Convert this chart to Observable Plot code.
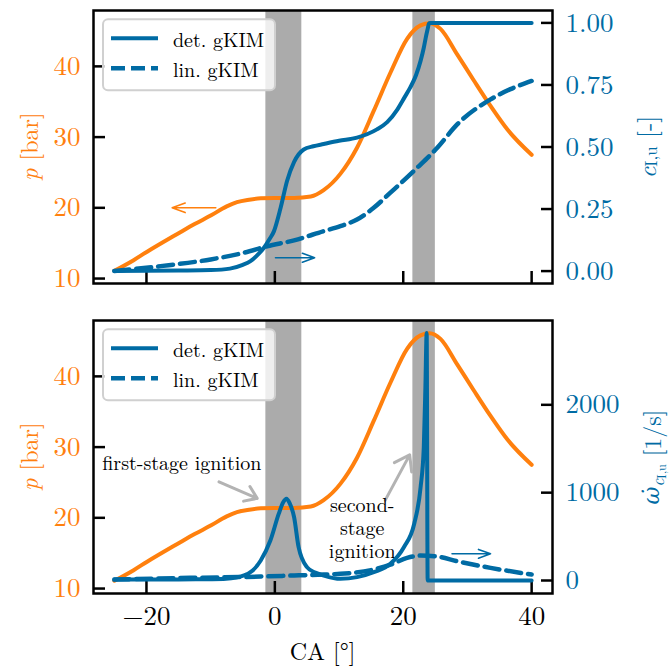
<!DOCTYPE html>
<html><head><meta charset="utf-8">
<script src="https://cdn.jsdelivr.net/npm/d3@7"></script>
<script src="https://cdn.jsdelivr.net/npm/@observablehq/plot@0.6"></script>
<style>
body{margin:0;background:#fff;}
#fig{position:relative;width:671px;height:668px;overflow:hidden;background:#fff;}
#fig svg{position:absolute;left:0;}
</style></head><body><div id="fig"></div>
<script>
// ---------- data ----------
const caP = [-25,-22,-19.9,-17.5,-15.2,-12.5,-10,-7.5,-5.9,-4,-2.2,0,3,5.6,7.6,10.2,12.8,15.4,18,20.6,22.7,24.1,25.8,28.4,31,33.6,36.2,40];
const pressure = [11.1,12.6,13.8,15.1,16.3,17.7,18.9,20.2,20.8,21.15,21.35,21.4,21.4,21.6,22.5,24.8,28.5,33.7,39.1,43.9,45.8,46.1,45.3,41.7,38.0,34.4,31.1,27.5];

const caDetC = [-25,-15,-10,-7,-5,-3.8,-2.5,-1.7,-0.8,-0.15,0.9,1.9,3,4.5,6,7.6,10,12.8,15.9,17.5,19.1,20.2,21.1,22,22.7,23.2,23.5,23.8,24,24.2,40];
const detC = [0.0,0.002,0.004,0.01,0.025,0.04,0.07,0.094,0.13,0.16,0.255,0.363,0.44,0.49,0.503,0.512,0.525,0.538,0.571,0.60,0.652,0.70,0.74,0.79,0.847,0.90,0.94,0.975,0.997,1.0,1.0];

const caLinC = [-25,-17.8,-10,-4.8,-1.2,3,7.6,10.2,12.8,15.4,18,22.2,25.3,28.4,33.6,36.7,40];
const linC = [0.0,0.02,0.047,0.074,0.10,0.124,0.161,0.181,0.208,0.255,0.316,0.417,0.497,0.591,0.692,0.733,0.766];

const caDetW = [-25,-15,-10,-7.6,-4.8,-3.5,-2.2,-0.7,0.6,1.3,1.8,2.3,3.0,3.7,5,6.3,7.6,10.2,12.8,15.4,18,20.1,21.7,22.7,23.2,23.45,23.65,23.8,40];
const detW = [10,12,15,20,57,110,228,455,758,890,930,880,720,379,152,90,57,19,38,95,190,379,644,1060,1515,2200,2819,0,0];

const caLinW = [-25,-13.2,-2.2,3,7.6,10.2,15.4,18,20.6,22.7,25.3,28.4,33.6,40];
const linW = [10,30,45,57,68,76,125,180,258,284,273,220,144,68];

const bandStart = [-1.4, 21.5];
const bandEnd = [4.2, 25.0];

const xTicks = [-20, 0, 20, 40];
const pTicks = [10, 20, 30, 40];
const cTicks = [0, 0.25, 0.5, 0.75, 1.0];
const wTicks = [0, 1000, 2000];

const legendLabels = ["det. gKIM", "lin. gKIM"];

// annotation anchors (data coordinates)
const arrowP = {x1: -9.2, y1: 20.0, x2: -16.0, y2: 20.0};          // top panel, p scale
const arrowC = {x1: 0.1, y1: 0.054, x2: 6.2, y2: 0.054};            // top panel, c scale
const arrowW = {x1: 27.6, y1: 304, x2: 33.6, y2: 304};              // bottom panel, omega scale
const annoText = [
  {x: -14.5, y: 27.8, text: "first-stage ignition"},
  {x: 13.6, y: 18.6, text: "second-\nstage\nignition"}
];
const annoArrows = [
  {x1: -8.7, y1: 25.1, x2: -2.75, y2: 22.75},
  {x1: 17.2, y1: 22.5, x2: 21.0, y2: 28.9}
];

// ---------- styling ----------
const ORANGE = "#FF800E", BLUE = "#006BA4", GRAY = "#ABABAB";
const FONT = "Latin Modern Roman, Liberation Serif, serif";
const xDomain = [-28.25, 43.25];
const pDomain = [9.3, 47.9];
const cDomain = [-0.05, 1.05];
const wDomain = [-148, 2960];
const zip = (xs, ys) => xs.map((x, i) => ({x, y: ys[i]}));
const bands = bandStart.map((s, i) => ({x1: s, x2: bandEnd[i]}));
const fmtMinus = d => (d < 0 ? "\u2212" : "") + Math.abs(d);

const fig = document.getElementById("fig");

function place(svg, top) {
  svg.style.top = top + "px";
  fig.appendChild(svg);
}

function basePlot(height, mt, mb, yDomain, marks, xAxisNull) {
  return Plot.plot({
    width: 671, height,
    marginLeft: 93, marginRight: 119, marginTop: mt, marginBottom: mb,
    x: xAxisNull ? {domain: xDomain, axis: null} : {domain: xDomain},
    y: {domain: yDomain},
    style: {fontSize: "27px", background: "transparent", overflow: "visible", color: "black"},
    marks
  });
}

function leftMarks(withXLabels, extra) {
  const m = [
    Plot.rect(bands, {x1: "x1", x2: "x2", fill: GRAY}),
    Plot.line(zip(caP, pressure), {x: "x", y: "y", stroke: ORANGE, strokeWidth: 4, curve: "monotone-x"}),
    Plot.axisY(pTicks, {anchor: "left", tickSize: 12, dx: 12, fill: "none", stroke: "black", strokeWidth: 2.5, label: null}),
    Plot.axisY(pTicks, {anchor: "left", tickSize: 0, tickPadding: 13, fill: ORANGE, fontSize: 27, label: null}),
    Plot.axisX(xTicks, {anchor: "bottom", tickSize: 12, dy: -12, fill: "none", stroke: "black", strokeWidth: 2.5, label: null})
  ];
  if (withXLabels) m.push(Plot.axisX(xTicks, {anchor: "bottom", tickSize: 0, tickPadding: 12, fill: "black", fontSize: 27, tickFormat: fmtMinus, label: null}));
  return m.concat(extra);
}

function rightMarks(det, lin, ticks, fmt, extra) {
  return [
    Plot.line(lin, {x: "x", y: "y", stroke: BLUE, strokeWidth: 4.5, strokeDasharray: "15,7", curve: "monotone-x"}),
    Plot.line(det, {x: "x", y: "y", stroke: BLUE, strokeWidth: 4, curve: "monotone-x"}),
    Plot.axisY(ticks, {anchor: "right", tickSize: 12, dx: -12, fill: "none", stroke: "black", strokeWidth: 2.5, label: null}),
    Plot.axisY(ticks, {anchor: "right", tickSize: 0, tickPadding: 13, fill: BLUE, fontSize: 27, tickFormat: fmt, label: null}),
    ...extra,
    Plot.frame({stroke: "black", strokeWidth: 2.5})
  ];
}

// ---------- top panel ----------
place(basePlot(300, 10, 17, pDomain, leftMarks(false, [
  Plot.arrow([arrowP], {x1: "x1", y1: "y1", x2: "x2", y2: "y2", stroke: ORANGE, strokeWidth: 1.6, headLength: 13, headAngle: 40})
])), 0);
place(basePlot(300, 10, 17, cDomain, rightMarks(zip(caDetC, detC), zip(caLinC, linC), cTicks, d => d.toFixed(2), [
  Plot.arrow([arrowC], {x1: "x1", y1: "y1", x2: "x2", y2: "y2", stroke: BLUE, strokeWidth: 1.6, headLength: 13, headAngle: 40})
]), true), 0);

// ---------- bottom panel ----------
place(basePlot(368, 20, 75, pDomain, leftMarks(true, [
  Plot.arrow(annoArrows, {x1: "x1", y1: "y1", x2: "x2", y2: "y2", stroke: "#b3b3b3", strokeWidth: 3, headLength: 10, headAngle: 70}),
  Plot.text(annoText, {x: "x", y: "y", text: "text", fill: "black", fontSize: 20, lineAnchor: "middle", lineHeight: 1.15, textAnchor: "middle"})
])), 300);
place(basePlot(368, 20, 75, wDomain, rightMarks(zip(caDetW, detW), zip(caLinW, linW), wTicks, d => String(d), [
  Plot.arrow([arrowW], {x1: "x1", y1: "y1", x2: "x2", y2: "y2", stroke: BLUE, strokeWidth: 1.6, headLength: 13, headAngle: 40})
]), true), 300);

// ---------- overlay: axis labels & legends ----------
const ov = d3.select(fig).append("svg")
  .attr("width", 671).attr("height", 668)
  .style("top", "0px");

function pLabel(cy) {
  const t = ov.append("text")
    .attr("transform", `translate(28,${cy}) rotate(-90)`)
    .attr("text-anchor", "middle").attr("dominant-baseline", "central")
    .attr("fill", ORANGE).attr("font-size", 24);
  t.append("tspan").attr("font-style", "italic").text("p");
  t.append("tspan").text(" [bar]");
}
pLabel(146.5);
pLabel(456.5);

// c_{I,u} [-]
{
  const t = ov.append("text")
    .attr("transform", "translate(645,147) rotate(-90)")
    .attr("text-anchor", "middle").attr("dominant-baseline", "central")
    .attr("fill", BLUE).attr("font-size", 25);
  t.append("tspan").attr("font-style", "italic").text("c");
  t.append("tspan").attr("font-size", 17).attr("dy", 5).text("I,u");
  t.append("tspan").attr("dy", -5).text(" [-]");
}
// omega-dot_{c_{I,u}} [1/s]
{
  const t = ov.append("text")
    .attr("transform", "translate(651,457) rotate(-90)")
    .attr("text-anchor", "middle").attr("dominant-baseline", "central")
    .attr("fill", BLUE).attr("font-size", 24);
  t.append("tspan").attr("font-style", "italic").attr("font-family", "DejaVu Serif").attr("font-size", 22).text("\u03C9\u0307");
  t.append("tspan").attr("font-style", "italic").attr("font-size", 17).attr("dy", 6).text("c");
  t.append("tspan").attr("font-size", 12).attr("dy", 3).text("I,u");
  t.append("tspan").attr("dy", -9).text("  [1/s]");
}
// x label
ov.append("text").attr("x", 322.5).attr("y", 650)
  .attr("text-anchor", "middle").attr("dominant-baseline", "central")
  .attr("fill", "black").attr("font-size", 24).text("CA [\u00B0]");

function legend(top) {
  const g = ov.append("g").attr("transform", `translate(103,${top})`);
  g.append("rect").attr("width", 172).attr("height", 71).attr("rx", 5)
    .attr("fill", "white").attr("fill-opacity", 0.8).attr("stroke", "#d0d0d0").attr("stroke-width", 2);
  legendLabels.forEach((lab, i) => {
    const y = 19 + i * 30;
    g.append("line").attr("x1", 8).attr("x2", 55).attr("y1", y).attr("y2", y)
      .attr("stroke", BLUE).attr("stroke-width", i === 0 ? 4 : 4.5)
      .attr("stroke-dasharray", i === 0 ? null : "14,6");
    g.append("text").attr("x", 70).attr("y", y).attr("dominant-baseline", "central")
      .attr("font-size", 20).attr("fill", "black").text(lab);
  });
}
legend(19.3);
legend(329.3);

// ---------- fonts: set explicitly on every svg / text element ----------
d3.select(fig).selectAll("svg").attr("font-family", FONT).style("font-family", null);
d3.select(fig).selectAll("text").each(function() {
  if (!this.getAttribute("font-family")) this.setAttribute("font-family", FONT);
  this.style.fontFamily = "";
});
</script></body></html>
